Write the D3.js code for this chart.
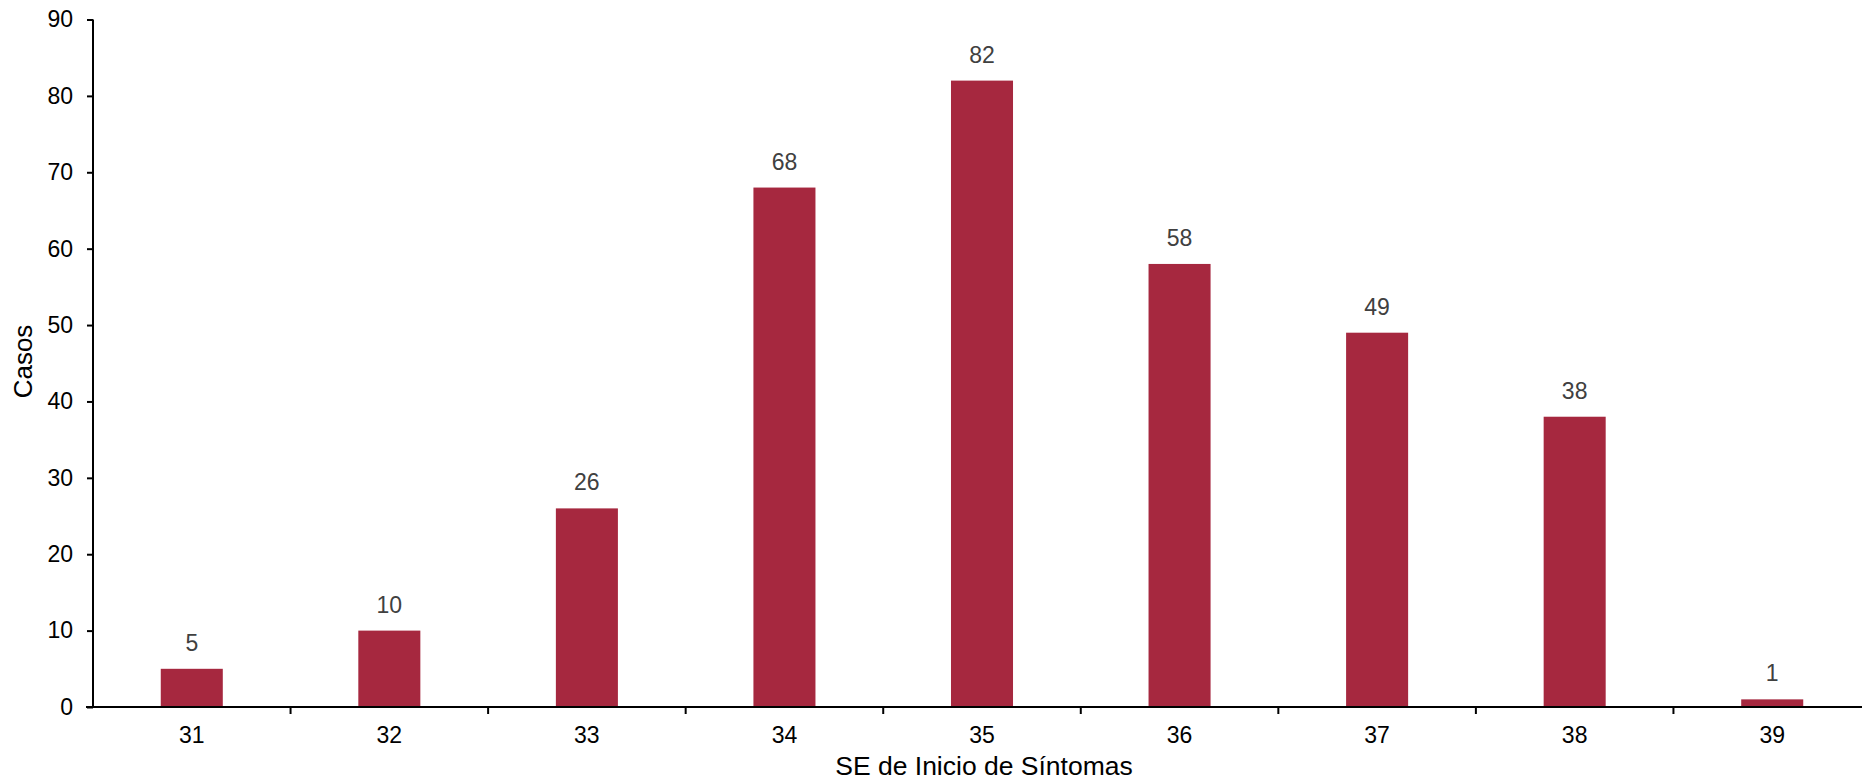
<!DOCTYPE html>
<html>
<head>
<meta charset="utf-8">
<script src="https://cdn.jsdelivr.net/npm/d3@7"></script>
<style>
  html, body { margin: 0; padding: 0; background: #ffffff; overflow: hidden; }
  svg { display: block; font-family: "Liberation Sans", Arial, sans-serif; }
</style>
</head>
<body>
<svg id="chart" width="1862" height="781"></svg>
<script>
const categories = ["31", "32", "33", "34", "35", "36", "37", "38", "39"];
const casos = [5, 10, 26, 68, 82, 58, 49, 38, 1];
const yTicks = [0, 10, 20, 30, 40, 50, 60, 70, 80, 90];
const xTitle = "SE de Inicio de Síntomas";
const yTitle = "Casos";

(function () {
const svg = d3.select("#chart");
const mLeft = 93, mRight = 1871, mTop = 19.5, mBottom = 707;

const x = d3.scaleBand().domain(categories).range([mLeft, mRight])
  .paddingInner(0.686).paddingOuter(0.343);
const y = d3.scaleLinear().domain([0, 90]).range([mBottom, mTop]);

const barColor = "#A6283F";

// bars
svg.append("g").selectAll("rect").data(categories).join("rect")
  .attr("x", d => x(d))
  .attr("y", (d, i) => y(casos[i]))
  .attr("width", x.bandwidth())
  .attr("height", (d, i) => y(0) - y(casos[i]))
  .attr("fill", barColor);

// value labels
svg.append("g").selectAll("text").data(categories).join("text")
  .attr("x", d => x(d) + x.bandwidth() / 2)
  .attr("y", (d, i) => y(casos[i]) - 18)
  .attr("text-anchor", "middle")
  .attr("font-size", 23)
  .attr("fill", "#404040")
  .text((d, i) => casos[i]);

// y axis
const yAxis = d3.axisLeft(y).tickValues(yTicks).tickSize(6).tickPadding(14);
const gy = svg.append("g").attr("transform", `translate(${mLeft},0)`).call(yAxis);
gy.select(".domain").attr("stroke", "#000").attr("stroke-width", 2)
  .attr("d", `M0,${mTop}V${mBottom}`);
gy.selectAll(".tick line").attr("stroke", "#000").attr("stroke-width", 2);
gy.selectAll(".tick text").attr("font-size", 23).attr("fill", "#000")
  .attr("font-family", "Liberation Sans, Arial, sans-serif");

// x axis
const step = x.step();
const gx = svg.append("g").attr("transform", `translate(0,${mBottom})`);
gx.append("line").attr("x1", mLeft - 7).attr("x2", mRight).attr("y1", 0).attr("y2", 0)
  .attr("stroke", "#000").attr("stroke-width", 2);
gx.selectAll("line.tk").data(categories.slice(1)).join("line")
  .attr("class", "tk")
  .attr("x1", d => x(d) - (step - x.bandwidth()) / 2)
  .attr("x2", d => x(d) - (step - x.bandwidth()) / 2)
  .attr("y1", 0).attr("y2", 7)
  .attr("stroke", "#000").attr("stroke-width", 2);
gx.selectAll("text").data(categories).join("text")
  .attr("x", d => x(d) + x.bandwidth() / 2)
  .attr("y", 36)
  .attr("text-anchor", "middle")
  .attr("font-size", 23)
  .attr("fill", "#000")
  .text(d => d);

// titles
svg.append("text")
  .attr("x", 984)
  .attr("y", 775)
  .attr("text-anchor", "middle")
  .attr("font-size", 26.5)
  .attr("fill", "#000")
  .text(xTitle);

svg.append("text")
  .attr("transform", `translate(32,361.5) rotate(-90)`)
  .attr("text-anchor", "middle")
  .attr("font-size", 26)
  .attr("fill", "#000")
  .text(yTitle);
})();
</script>
</body>
</html>
